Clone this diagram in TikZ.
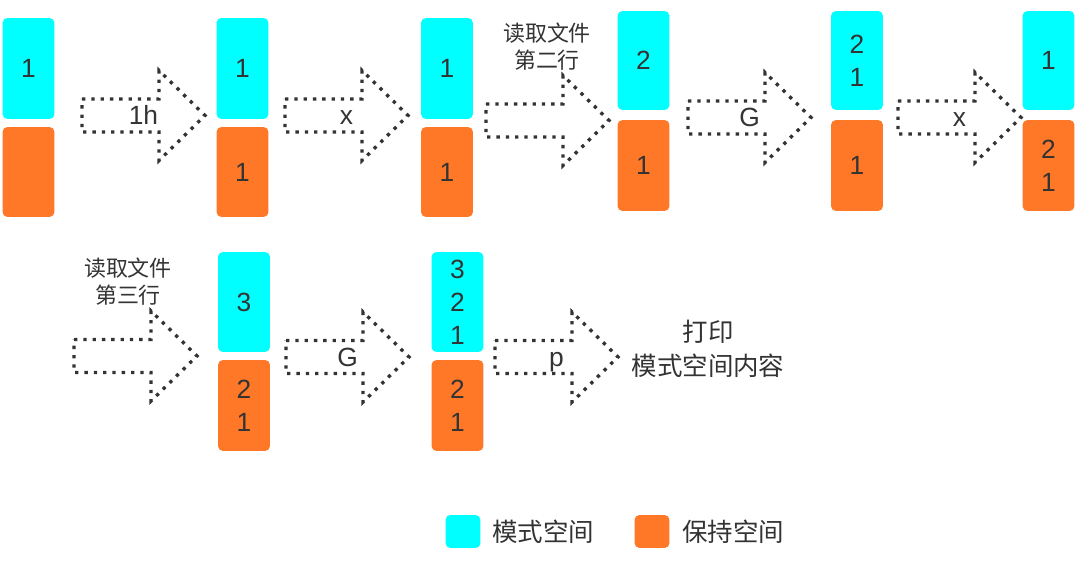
\documentclass[tikz,border=0pt]{standalone}
\usepackage{fontspec}
\setmainfont{Liberation Sans}
\newfontfamily\cjk{Noto Sans CJK SC}
\usetikzlibrary{positioning}
\definecolor{pattcyan}{HTML}{00FFFF}
\definecolor{holdorange}{HTML}{FF7828}
\definecolor{txtgray}{HTML}{333333}
\tikzset{
  numfont/.style={font=\fontsize{15}{18.7}\selectfont},
  patt/.style={fill=pattcyan, rounded corners=0.1cm, minimum width=1.04cm, inner sep=0pt, text=txtgray, align=center, numfont},
  hold/.style={patt, fill=holdorange},
  dotarrow/.style={draw=txtgray, line width=1.9pt, dash pattern=on 1.9pt off 3.4pt},
  arrlab/.style={text=txtgray, numfont, text height=10.7pt, text depth=0pt, inner sep=0pt},
  cjklab/.style={text=txtgray, align=center, font=\cjk\fontsize{12.5}{15.3}\selectfont},
  bigcjk/.style={text=txtgray, align=center, font=\cjk\fontsize{14.5}{19.3}\selectfont},
  legbox/.style={minimum width=0.7cm, minimum height=0.66cm, rounded corners=0.1cm, inner sep=0pt}
}
\begin{document}
\begin{tikzpicture}[x=0.02cm, y=-0.02cm]
  \useasboundingbox (0,0) rectangle (1080,567);

  % Row 1: pattern space (cyan) and hold space (orange)
  \node[patt, minimum height=2.02cm] (p1) at (28.5,68.5) {1};
  \node[hold, minimum height=1.8cm] (h1) at (28.5,172) {};
  \node[patt, minimum height=2.02cm] (p2) at (242.5,68.5) {1};
  \node[hold, minimum height=1.8cm] (h2) at (242.5,172) {1};
  \node[patt, minimum height=2.02cm] (p3) at (447,68.5) {1};
  \node[hold, minimum height=1.8cm] (h3) at (447,172) {1};
  \node[patt, minimum height=1.98cm] (p4) at (643.5,60.5) {2};
  \node[hold, minimum height=1.82cm] (h4) at (643.5,165.5) {1};
  \node[patt, minimum height=1.98cm] (p5) at (857,60.5) {2\\1};
  \node[hold, minimum height=1.82cm] (h5) at (857,165.5) {1};
  \node[patt, minimum height=1.98cm] (p6) at (1048.5,60.5) {1};
  \node[hold, minimum height=1.82cm] (h6) at (1048.5,165.5) {2\\1};

  % Row 2
  \node[patt, minimum height=2.0cm] (p7) at (244,302) {3};
  \node[hold, minimum height=1.82cm] (h7) at (244,405.5) {2\\1};
  \node[patt, minimum height=2.0cm] (p8) at (457.5,302) {3\\2\\1};
  \node[hold, minimum height=1.82cm] (h8) at (457.5,405.5) {2\\1};

  % Dotted block arrows with their commands
  \foreach \ax/\ay/\lab/\nm in {82/115.5/1h/a1, 285/115.5/x/a2, 486/120.5/{}/a3, 688/117.5/G/a4,
                                898/117.5/x/a5, 74/356/{}/a6, 286/357/G/a7, 495/357/p/a8}{
    \draw[dotarrow] (\ax,\ay-16.5) -- ++(77,0) -- ++(0,-28.5) -- ++(46,45) -- ++(-46,45)
      -- ++(0,-28.5) -- ++(-77,0) -- cycle;
    \node[arrlab] (\nm) at (\ax+61.5,\ay) {\lab};
  }

  % Texts
  \node[cjklab] (rd2) at (547,46.5) {读取文件\\第二行};
  \node[cjklab] (rd3) at (128,282) {读取文件\\第三行};
  \node[bigcjk] (prt) at (708,349) {打印\\模式空间内容};

  % Legend
  \node[legbox, fill=pattcyan] (lgp) at (463,531.5) {};
  \node[bigcjk, right=0.22cm of lgp, inner sep=0pt] (lgpt) {模式空间};
  \node[legbox, fill=holdorange] (lgh) at (652,531.5) {};
  \node[bigcjk, right=0.24cm of lgh, inner sep=0pt] (lght) {保持空间};
\end{tikzpicture}
\end{document}
